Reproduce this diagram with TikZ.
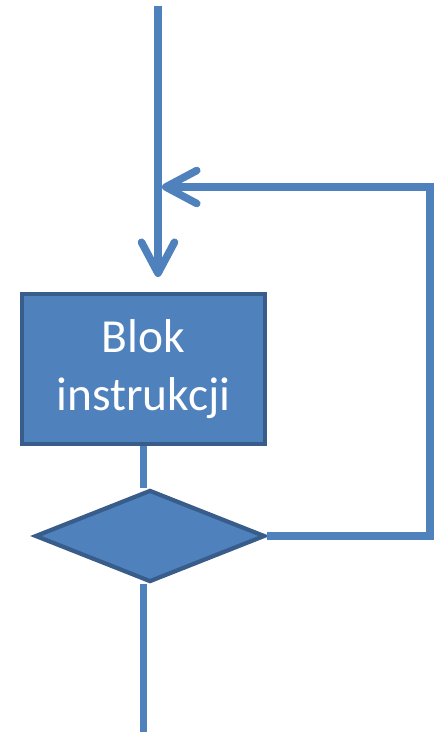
\documentclass[tikz,border=0pt]{standalone}
\usepackage{fontspec}
\setmainfont{Carlito}
\usetikzlibrary{arrows.meta,shapes.geometric,backgrounds,positioning}
\definecolor{cLine}{HTML}{4F81BD}
\definecolor{cEdge}{HTML}{385D8A}
\tikzset{
  blok/.style={draw=cEdge, line width=2.6pt, fill=cLine, align=center, text=white, font=\fontsize{27}{33}\selectfont, minimum width=4.86cm, minimum height=3.0cm, inner sep=0pt},
  warunek/.style={diamond, draw=cEdge, line width=2.4pt, fill=cLine, minimum width=4.6cm, minimum height=1.84cm, inner sep=0pt},
  lin/.style={draw=cLine, line width=4.3pt},
  arr/.style={lin, -{Straight Barb[length=0.62cm, width=0.66cm, round]}},
}
\begin{document}
\begin{tikzpicture}[x=0.02cm, y=-0.02cm]
\useasboundingbox (0,0) rectangle (433,737);
% blok i warunek
\node[blok] (blk) at (143.5,369) {Blok\\instrukcji};
\node[warunek] (war) at (150,536) {};
% punkty pomocnicze
\coordinate (start) at (158,6);
\coordinate (wej) at (158,277);
\coordinate (pow) at (162,187);
\coordinate (rog) at (430,187);
\coordinate (koniec) at (143.5,732);
% polaczenia
\draw[arr] (start) -- (wej);
\draw[arr] (war.east) -| (rog) -- (pow);
\begin{scope}[on background layer]
\draw[lin] (blk.south) -- (blk.south |- war.north);
\draw[lin] (war.south -| koniec) -- (koniec);
\end{scope}
\end{tikzpicture}
\end{document}
